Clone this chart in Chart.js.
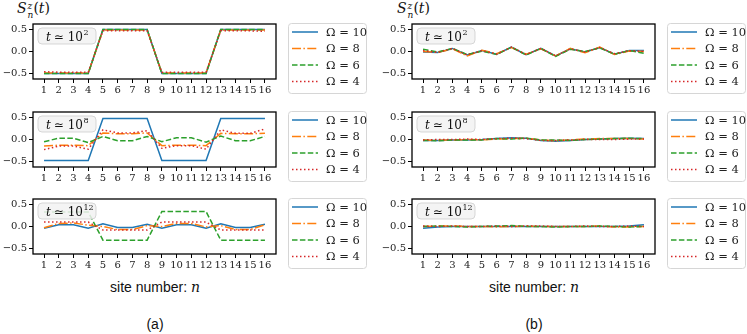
<!DOCTYPE html>
<html>
<head>
<meta charset="utf-8">
<script src="https://cdn.jsdelivr.net/npm/chart.js@4.4.1/dist/chart.umd.min.js"></script>
<style>
  body { margin: 0; background: #fff; width: 747px; height: 334px; position: relative; overflow: hidden; }
  canvas { position: absolute; }
  .lab { position: absolute; color: #111; white-space: nowrap; }
  .ylab { font: 14px "DejaVu Serif", serif; }
  .ylab i { font-style: italic; }
  .ss { display: inline-block; vertical-align: -5px; line-height: 9px; font-size: 9px; margin-left: 1px; }
  .ss span { display: block; }
  .xlab { font: 14px "Liberation Sans", Arial, sans-serif; transform: translateX(-50%); }
  .xlab i { font: italic 14px "DejaVu Serif", serif; }
  .sub { font: 14px "Liberation Sans", Arial, sans-serif; transform: translateX(-50%); }
</style>
</head>
<body>
<div class="lab ylab" style="left:17px;top:0px"><i>S</i><span class="ss"><span><i>z</i></span><span><i>n</i></span></span>(<i>t</i>)</div>
<div class="lab ylab" style="left:397px;top:0px"><i>S</i><span class="ss"><span><i>z</i></span><span><i>n</i></span></span>(<i>t</i>)</div>

<canvas id="a1" width="380" height="85" style="left:0;top:12px"></canvas>
<canvas id="a2" width="380" height="85" style="left:0;top:100px"></canvas>
<canvas id="a3" width="380" height="85" style="left:0;top:187px"></canvas>
<canvas id="b1" width="367" height="85" style="left:380px;top:12px"></canvas>
<canvas id="b2" width="367" height="85" style="left:380px;top:100px"></canvas>
<canvas id="b3" width="367" height="85" style="left:380px;top:187px"></canvas>

<div class="lab xlab" style="left:155px;top:279px">site number: <i>n</i></div>
<div class="lab xlab" style="left:534px;top:279px">site number: <i>n</i></div>
<div class="lab sub" style="left:155px;top:316px">(a)</div>
<div class="lab sub" style="left:534px;top:316px">(b)</div>

<script>
// ── Data ──────────────────────────────────────
const sites = [1, 2, 3, 4, 5, 6, 7, 8, 9, 10, 11, 12, 13, 14, 15, 16];
const omegas = [10, 8, 6, 4];
const yTicks = [-0.5, 0, 0.5];

// (a) t ≃ 10^2
const a1_om10 = [-0.5, -0.5, -0.5, -0.5, 0.5, 0.5, 0.5, 0.5, -0.5, -0.5, -0.5, -0.5, 0.5, 0.5, 0.5, 0.5];
const a1_om8  = [-0.49, -0.49, -0.49, -0.49, 0.49, 0.49, 0.49, 0.49, -0.49, -0.49, -0.49, -0.49, 0.49, 0.49, 0.49, 0.49];
const a1_om6  = [-0.5, -0.5, -0.5, -0.5, 0.5, 0.5, 0.5, 0.5, -0.5, -0.5, -0.5, -0.5, 0.5, 0.5, 0.5, 0.5];
const a1_om4  = [-0.46, -0.47, -0.47, -0.47, 0.47, 0.47, 0.47, 0.47, -0.47, -0.47, -0.47, -0.47, 0.47, 0.47, 0.47, 0.46];

// (a) t ≃ 10^8
const a2_om10 = [-0.48, -0.48, -0.48, -0.48, 0.48, 0.48, 0.48, 0.48, -0.48, -0.48, -0.48, -0.48, 0.48, 0.48, 0.48, 0.48];
const a2_om8  = [-0.15, -0.13, -0.13, -0.14, 0.15, 0.13, 0.13, 0.15, -0.14, -0.13, -0.13, -0.14, 0.14, 0.13, 0.13, 0.14];
const a2_om6  = [-0.05, 0.03, 0.03, -0.07, 0.07, -0.03, -0.03, 0.07, -0.05, 0.04, 0.04, -0.06, 0.08, -0.03, -0.03, 0.07];
const a2_om4  = [-0.23, -0.15, -0.15, -0.22, 0.22, 0.15, 0.15, 0.2, -0.2, -0.14, -0.14, -0.22, 0.22, 0.14, 0.14, 0.24];

// (a) t ≃ 10^12
const a3_om10 = [-0.04, 0.04, 0.04, -0.04, 0.06, -0.02, -0.02, 0.05, -0.04, 0.04, 0.04, -0.04, 0.06, -0.02, -0.02, 0.05];
const a3_om8  = [-0.03, 0.07, 0.08, 0.03, 0.0, -0.07, -0.07, 0.02, 0.0, 0.07, 0.07, -0.01, 0.02, -0.07, -0.07, 0.04];
const a3_om6  = [0.33, 0.33, 0.33, 0.33, -0.31, -0.31, -0.31, -0.31, 0.34, 0.34, 0.34, 0.34, -0.31, -0.31, -0.31, -0.31];
const a3_om4  = [0.1, 0.1, 0.1, 0.1, -0.08, -0.08, -0.08, -0.08, 0.1, 0.1, 0.1, 0.1, -0.08, -0.08, -0.08, -0.08];

// (b) t ≃ 10^2
const b1_om10 = [-0.01, -0.02, 0.07, -0.08, 0.02, -0.06, 0.1, -0.07, 0.07, -0.1, 0.06, -0.01, 0.09, -0.06, 0.02, 0.02];
const b1_om8  = [0.0, -0.02, 0.06, -0.1, 0.03, -0.05, 0.09, -0.06, 0.06, -0.1, 0.07, -0.03, 0.1, -0.07, 0.01, 0.0];
const b1_om6  = [0.05, -0.01, 0.07, -0.07, 0.01, -0.07, 0.1, -0.08, 0.07, -0.11, 0.05, 0.0, 0.08, -0.06, 0.02, -0.04];
const b1_om4  = [0.02, -0.02, 0.07, -0.08, 0.02, -0.06, 0.1, -0.07, 0.07, -0.1, 0.06, -0.01, 0.09, -0.05, 0.02, 0.0];

// (b) t ≃ 10^8
const b2_om10 = [-0.02, -0.02, -0.01, -0.01, 0.0, 0.02, 0.04, 0.03, -0.02, -0.04, -0.02, 0.0, 0.01, 0.02, 0.03, 0.02];
const b2_om8  = [-0.01, -0.02, -0.01, 0.0, -0.01, 0.01, 0.02, 0.03, -0.01, -0.03, -0.01, 0.01, 0.02, 0.02, 0.02, 0.01];
const b2_om6  = [-0.02, -0.03, -0.01, -0.01, -0.01, 0.02, 0.01, 0.03, -0.01, -0.01, -0.02, 0.0, 0.01, 0.02, 0.03, 0.02];
const b2_om4  = [-0.01, 0.0, 0.0, 0.01, 0.0, 0.02, 0.03, 0.02, -0.02, -0.02, -0.01, 0.0, 0.0, 0.0, 0.01, 0.01];

// (b) t ≃ 10^12
const b3_om10 = [-0.04, -0.01, 0.0, 0.0, 0.0, 0.0, 0.0, 0.0, 0.0, 0.0, 0.0, 0.0, 0.0, 0.0, 0.01, 0.04];
const b3_om8  = [0.0, 0.01, 0.01, 0.0, 0.0, -0.01, 0.0, 0.01, 0.0, 0.0, 0.0, 0.0, 0.01, -0.01, -0.01, 0.0];
const b3_om6  = [0.0, 0.01, 0.0, -0.01, 0.0, 0.01, 0.02, 0.0, 0.0, -0.01, 0.0, 0.0, 0.01, 0.0, -0.01, 0.0];
const b3_om4  = [0.01, 0.0, 0.01, 0.0, 0.0, 0.01, 0.0, 0.01, 0.01, 0.0, 0.0, 0.01, 0.0, 0.0, 0.01, 0.0];

// ── Styles ────────────────────────────────────
const colors = ['#1f77b4', '#ff7f0e', '#2ca02c', '#d62728'];
const dashes = [[], [9, 2.4, 1.5, 2.4], [5.5, 2.4], [1.5, 2.5]];
const SERIF = '"DejaVu Serif", serif';
const tickFont = { family: SERIF, size: 10 };

function roundRect(ctx, x, y, w, h, r) {
  ctx.beginPath();
  ctx.moveTo(x + r, y);
  ctx.arcTo(x + w, y, x + w, y + h, r);
  ctx.arcTo(x + w, y + h, x, y + h, r);
  ctx.arcTo(x, y + h, x, y, r);
  ctx.arcTo(x, y, x + w, y, r);
  ctx.closePath();
}

// frame, "t ≃ 10^k" inset and the side legend
const panelDeco = {
  id: 'panelDeco',
  afterDatasetsDraw(chart, args, opts) {
    const { ctx, chartArea: a } = chart;
    ctx.save();
    const bx = a.left + 5, by = a.top + 4, bw = 58, bh = 16;
    roundRect(ctx, bx, by, bw, bh, 4);
    ctx.fillStyle = 'rgba(242,242,242,0.85)';
    ctx.fill();
    ctx.strokeStyle = 'rgba(210,210,210,0.9)';
    ctx.lineWidth = 1;
    ctx.stroke();
    ctx.fillStyle = '#111';
    ctx.textBaseline = 'alphabetic';
    let x = bx + 8, y = by + 12.5;
    ctx.font = 'italic 12px ' + SERIF;
    ctx.fillText('t', x, y);
    x += ctx.measureText('t').width + 3;
    ctx.font = '12px ' + SERIF;
    ctx.fillText('≃ 10', x, y);
    x += ctx.measureText('≃ 10').width + 0.5;
    ctx.font = '8px ' + SERIF;
    ctx.fillText(String(opts.exp), x, y - 6);

    ctx.strokeStyle = '#000';
    ctx.lineWidth = 1.3;
    ctx.strokeRect(a.left, a.top, a.right - a.left, a.bottom - a.top);
    ctx.restore();
  },
  afterDraw(chart) {
    const { ctx, chartArea: a } = chart;
    const lx = a.right + 12, ly = a.top - 1, lw = 79, lh = 70;
    ctx.save();
    roundRect(ctx, lx + 0.5, ly + 0.5, lw - 1, lh, 3);
    ctx.fillStyle = 'rgba(255,255,255,0.9)';
    ctx.fill();
    ctx.strokeStyle = '#d6d6d6';
    ctx.lineWidth = 1;
    ctx.stroke();
    chart.data.datasets.forEach((ds, i) => {
      const yy = a.top + 8 + i * 16.5;
      ctx.beginPath();
      ctx.setLineDash(ds.borderDash);
      ctx.strokeStyle = ds.borderColor;
      ctx.lineWidth = ds.borderWidth;
      ctx.moveTo(lx + 4, yy);
      ctx.lineTo(lx + 30, yy);
      ctx.stroke();
      ctx.setLineDash([]);
      ctx.fillStyle = '#222';
      ctx.font = '11.5px ' + SERIF;
      ctx.textBaseline = 'middle';
      ctx.fillText('Ω = ' + omegas[i], lx + 38, yy + 1);
    });
    ctx.restore();
  }
};

function makePanel(id, series, exp, yAxisWidth, rightPad) {
  return new Chart(document.getElementById(id), {
    type: 'line',
    data: {
      datasets: series.map((arr, i) => ({
        label: 'Ω = ' + omegas[i],
        data: sites.map((s, k) => ({ x: s, y: arr[k] })),
        borderColor: colors[i],
        borderDash: dashes[i],
        borderWidth: 1.5,
        pointRadius: 0,
        tension: 0,
        fill: false,
        order: 3 - i
      }))
    },
    options: {
      responsive: false,
      animation: false,
      devicePixelRatio: 1,
      layout: { padding: { top: 12, right: rightPad, left: 0, bottom: 0 } },
      plugins: { legend: { display: false }, tooltip: { enabled: false }, panelDeco: { exp } },
      scales: {
        x: {
          type: 'linear', min: 0.25, max: 16.75,
          afterBuildTicks: s => { s.ticks = sites.map(v => ({ value: v })); },
          afterFit: s => { s.height = 18; },
          grid: { drawOnChartArea: false, drawTicks: true, tickLength: 4, tickColor: '#000', tickWidth: 1 },
          border: { display: false },
          ticks: { font: tickFont, color: '#222', padding: 1.5, maxRotation: 0, autoSkip: false, callback: v => String(v) }
        },
        y: {
          min: -0.625, max: 0.625,
          afterBuildTicks: s => { s.ticks = yTicks.map(v => ({ value: v })); },
          afterFit: s => { s.width = yAxisWidth; },
          grid: { drawOnChartArea: false, drawTicks: true, tickLength: 4, tickColor: '#000', tickWidth: 1 },
          border: { display: false },
          ticks: {
            font: tickFont, color: '#222', padding: 2,
            callback: v => (v < 0 ? '−' : '') + Math.abs(v).toFixed(1)
          }
        }
      }
    },
    plugins: [panelDeco]
  });
}

makePanel('a1', [a1_om10, a1_om8, a1_om6, a1_om4], 2, 33, 104);
makePanel('a2', [a2_om10, a2_om8, a2_om6, a2_om4], 8, 33, 104);
makePanel('a3', [a3_om10, a3_om8, a3_om6, a3_om4], 12, 33, 104);
makePanel('b1', [b1_om10, b1_om8, b1_om6, b1_om4], 2, 32, 92);
makePanel('b2', [b2_om10, b2_om8, b2_om6, b2_om4], 8, 32, 92);
makePanel('b3', [b3_om10, b3_om8, b3_om6, b3_om4], 12, 32, 92);
</script>
</body>
</html>
